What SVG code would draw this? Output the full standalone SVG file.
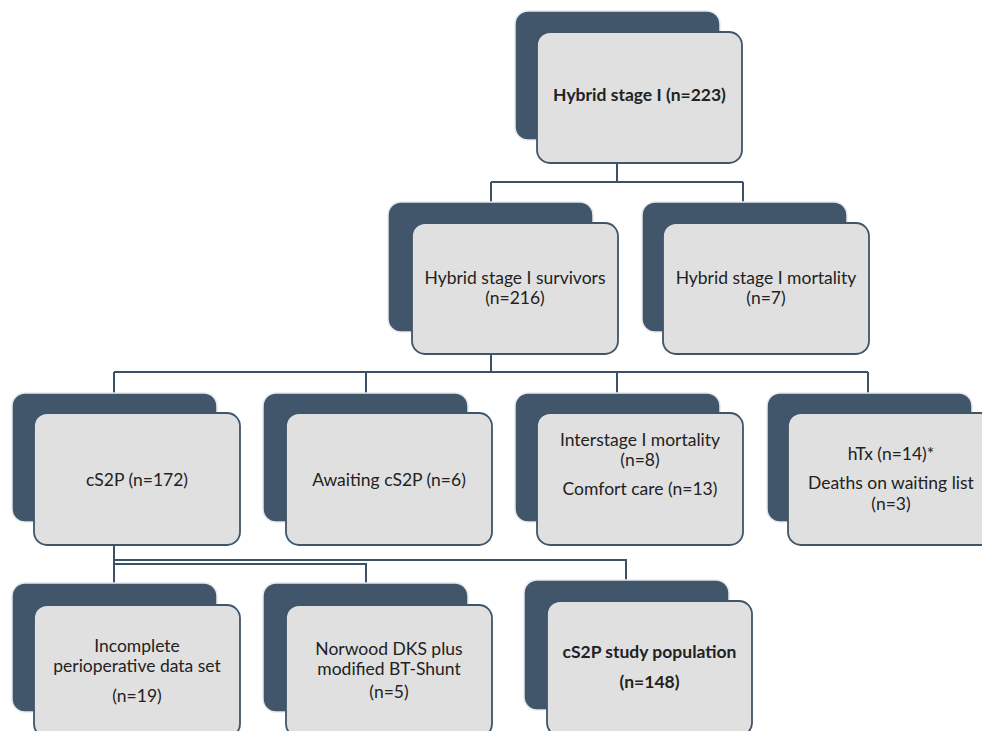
<svg xmlns="http://www.w3.org/2000/svg" width="982" height="731" viewBox="0 0 982 731">
<style>
.back{fill:#42566b;stroke:#e6e9ec;stroke-width:1.5}
.front{fill:#e0e0e0;stroke:#3f5569;stroke-width:1.8}
.t{font-family:Lato,"Liberation Sans",sans-serif;font-size:17.5px;fill:#222222;text-anchor:middle}
.b{font-weight:bold}
.c{fill:none;stroke:#3d5166;stroke-width:2}
</style>
<rect width="982" height="731" fill="#ffffff"/>
<g id="connectors">
<path class="c" d="M617 163V182M491 182H743M491 182V202M743 182V202"/>
<path class="c" d="M491 354V372M114 372H868M114 372V393M366 372V393M617 372V393M868 372V393"/>
<path class="c" d="M114 545V583M114 560H626V580M114 564H366V583"/>
</g>
<g id="n_stage1">
<rect class="back" x="515" y="11" width="205" height="129" rx="13"/>
<rect class="front" x="537" y="32" width="205" height="131" rx="13"/>
<text class="t b" x="639.5" y="101">Hybrid stage I (n=223)</text>
</g>
<g id="n_survivors">
<rect class="back" x="388" y="202" width="205" height="130" rx="13"/>
<rect class="front" x="412" y="223" width="206" height="131" rx="13"/>
<text class="t" x="515" y="284">Hybrid stage I survivors</text>
<text class="t" x="515" y="304">(n=216)</text>
</g>
<g id="n_mortality">
<rect class="back" x="642" y="202" width="205" height="130" rx="13"/>
<rect class="front" x="663" y="223" width="206" height="131" rx="13"/>
<text class="t" x="766" y="284">Hybrid stage I mortality</text>
<text class="t" x="766" y="304">(n=7)</text>
</g>
<g id="n_cs2p">
<rect class="back" x="12" y="393" width="205" height="129" rx="13"/>
<rect class="front" x="34" y="413" width="206" height="132" rx="13"/>
<text class="t" x="137" y="486">cS2P (n=172)</text>
</g>
<g id="n_awaiting">
<rect class="back" x="263" y="393" width="205" height="129" rx="13"/>
<rect class="front" x="286" y="413" width="206" height="132" rx="13"/>
<text class="t" x="389" y="486">Awaiting cS2P (n=6)</text>
</g>
<g id="n_interstage">
<rect class="back" x="515" y="393" width="205" height="129" rx="13"/>
<rect class="front" x="537" y="413" width="206" height="132" rx="13"/>
<text class="t" x="640" y="446">Interstage I mortality</text>
<text class="t" x="640" y="466">(n=8)</text>
<text class="t" x="640" y="495">Comfort care (n=13)</text>
</g>
<g id="n_htx">
<rect class="back" x="767" y="393" width="205" height="129" rx="13"/>
<rect class="front" x="788" y="413" width="206" height="132" rx="13"/>
<text class="t" x="891" y="460">hTx (n=14)*</text>
<text class="t" x="891" y="489">Deaths on waiting list</text>
<text class="t" x="891" y="510">(n=3)</text>
</g>
<g id="n_incomplete">
<rect class="back" x="12" y="583" width="205" height="129" rx="13"/>
<rect class="front" x="34" y="605" width="206" height="132" rx="13"/>
<text class="t" x="137" y="652">Incomplete</text>
<text class="t" x="137" y="672">perioperative data set</text>
<text class="t" x="137" y="702">(n=19)</text>
</g>
<g id="n_norwood">
<rect class="back" x="263" y="583" width="205" height="129" rx="13"/>
<rect class="front" x="286" y="605" width="206" height="132" rx="13"/>
<text class="t" x="389" y="655">Norwood DKS plus</text>
<text class="t" x="389" y="675">modified BT-Shunt</text>
<text class="t" x="389" y="698">(n=5)</text>
</g>
<g id="n_study">
<rect class="back" x="524" y="580" width="205" height="130" rx="13"/>
<rect class="front" x="547" y="601" width="205" height="135" rx="13"/>
<text class="t b" x="649.5" y="658">cS2P study population</text>
<text class="t b" x="649.5" y="688">(n=148)</text>
</g>
</svg>
